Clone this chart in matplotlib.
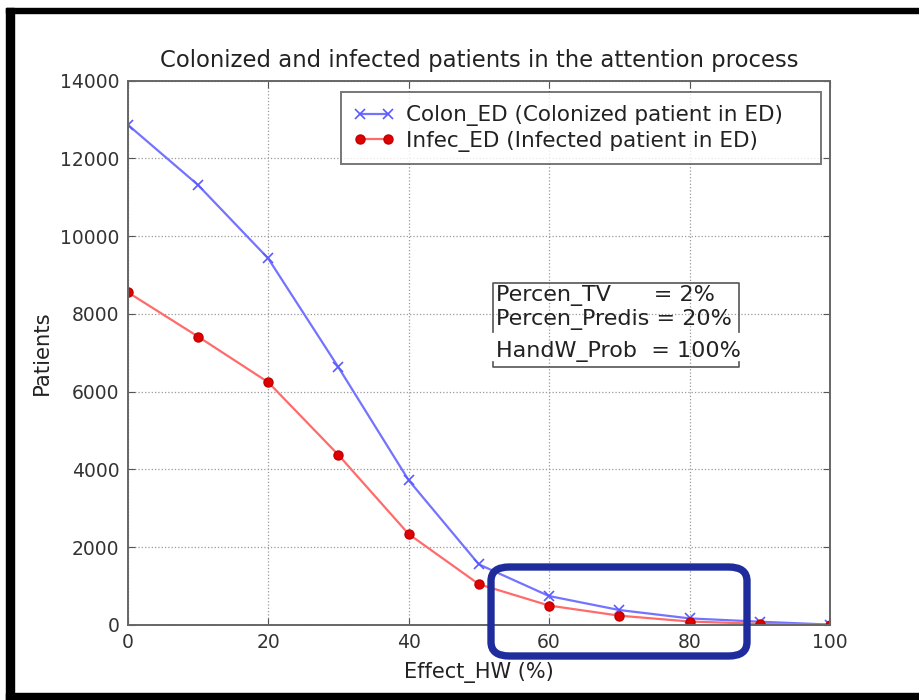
import matplotlib
matplotlib.use("Agg")
import matplotlib.pyplot as plt
from matplotlib.patches import Rectangle, FancyBboxPatch
from matplotlib.lines import Line2D

# values
effect_hw = [0, 10, 20, 30, 40, 50, 60, 70, 80, 90, 100]
colon_ed = [12870, 11320, 9430, 6630, 3725, 1560, 745, 385, 170, 85, 10]
infec_ed = [8560, 7420, 6245, 4375, 2340, 1050, 500, 240, 90, 30, 5]

series_labels = ["Colon_ED (Colonized patient in ED)", "Infec_ED (Infected patient in ED)"]
params_text = ["Percen_TV      = 2%", "Percen_Predis = 20%", "HandW_Prob  = 100%"]

W, H = 920, 700
fig = plt.figure(figsize=(9.2, 7.0), dpi=100, facecolor="white")

def fx(px):
    return px / W

def fy(py):
    return 1 - py / H

ax = fig.add_axes([fx(127.7), fy(625), fx(830) - fx(127.7), fy(80.7) - fy(625)])

ax.plot(effect_hw, colon_ed, color="#7373ff", lw=1.6, marker="x", ms=7, mew=1.2,
        mec="#5a5aff", label=series_labels[0])
ax.plot(effect_hw, infec_ed, color="#ff6b6b", lw=1.6, marker="o", ms=6.5,
        mfc="#e00000", mec="#c00000", label=series_labels[1])

ax.set_xlim(0, 100)
ax.set_ylim(0, 14000)
ax.set_xticks(range(0, 101, 20))
ax.set_yticks(range(0, 14001, 2000))
ax.tick_params(direction="in", top=True, right=True, length=5, width=0.8,
               color="#555555", labelsize=13.5, labelcolor="#333333", pad=6)
ax.grid(True, linestyle=":", color="#999999", lw=0.9)
for s in ax.spines.values():
    s.set_color("#666666")
    s.set_linewidth(1.4)

ax.set_title("Colonized and infected patients in the attention process", fontsize=16.4,
             color="#222222", pad=10)
ax.set_xlabel("Effect_HW (%)", fontsize=15, color="#222222", labelpad=7)
ax.set_ylabel("Patients", fontsize=15.2, color="#222222", labelpad=6)

# legend frame spans 341..821 px in the reference, wider than its text
leg = ax.legend(loc="upper left",
                bbox_to_anchor=(fx(340.7), fy(167), fx(821) - fx(340.7), fy(92.3) - fy(167)),
                bbox_transform=fig.transFigure, mode="expand", borderaxespad=0, numpoints=2,
                fontsize=15.5, fancybox=False, frameon=True, handlelength=1.9,
                borderpad=0.6, labelspacing=0.2, handletextpad=0.55)
leg.get_frame().set_edgecolor("#555555")
leg.get_frame().set_linewidth(1.4)
for t in leg.get_texts():
    t.set_color("#222222")

# parameter box
for t, y in zip(params_text, [295, 320, 352]):
    fig.text(fx(496), fy(y), t, fontsize=16, color="#222222", va="center", ha="left")
box_col = "#555555"
fig.add_artist(Line2D([fx(493), fx(493), fx(739), fx(739)],
                      [fy(332), fy(283), fy(283), fy(332)], color=box_col, lw=1.2))
fig.add_artist(Line2D([fx(493), fx(493), fx(739), fx(739)],
                      [fy(362), fy(367), fy(367), fy(362)], color=box_col, lw=1.2))

# highlight box drawn over the tail of the curves
hl = FancyBboxPatch((fx(491), fy(656)), fx(747) - fx(491), fy(567) - fy(656),
                    boxstyle="round,pad=0,rounding_size=0.02", transform=fig.transFigure,
                    fill=False, edgecolor="#1f2d9c", lw=5.3, zorder=10)
fig.add_artist(hl)

# screenshot frame
fig.add_artist(Rectangle((fx(6), fy(12.5)), 1, fy(8) - fy(12.5), transform=fig.transFigure,
                         color="black", zorder=20))
fig.add_artist(Rectangle((fx(6), 0), fx(14) - fx(6), fy(8), transform=fig.transFigure,
                         color="black", zorder=20))
fig.add_artist(Rectangle((fx(6), 0), 1, fy(693), transform=fig.transFigure,
                         color="black", zorder=20))

fig.savefig("out.png", dpi=100, facecolor="white")
